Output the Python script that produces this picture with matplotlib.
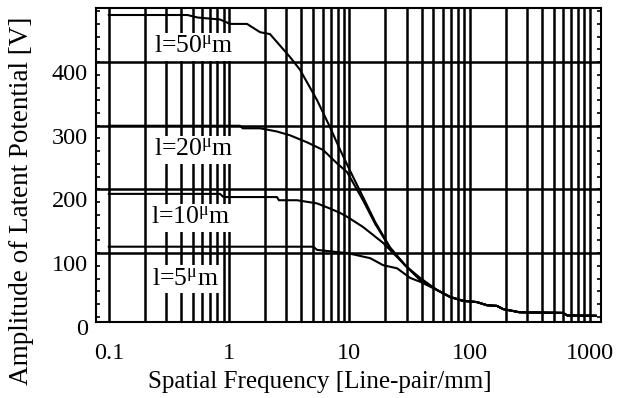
import numpy as np
import matplotlib
matplotlib.use("Agg")
import matplotlib.pyplot as plt
from matplotlib.ticker import FixedLocator, MultipleLocator, NullFormatter
from matplotlib.transforms import ScaledTranslation

plt.rcParams['font.family'] = ['Liberation Serif', 'DejaVu Serif']
plt.rcParams['mathtext.fontset'] = 'custom'
plt.rcParams['mathtext.rm'] = 'Liberation Serif'
plt.rcParams['mathtext.it'] = 'Liberation Serif'

# curves (frequency in line-pair/mm, amplitude in V)
tail_f = [69, 88, 115, 140, 169, 190, 230, 260, 600, 650, 1120]
tail_v = [31, 25, 23, 18, 17, 12, 9, 7, 6, 2, 1.5]

f_50 = [0.1, 0.45, 0.55, 0.84, 1.02, 1.41, 1.81, 2.19, 3.21, 3.89, 5.4, 6.9, 8.4, 10.1, 13, 16.4, 21.8, 29.1, 38.8, 53.6]
v_50 = [474, 474, 470, 467, 460, 460, 447, 444, 408, 388, 340, 298, 262, 230, 188, 149, 109, 81, 58, 42]

f_20 = [0.1, 1.23, 1.3, 1.81, 2.5, 3.21, 4.45, 6.05, 7.9, 9.6, 13, 16.4, 21.8, 29.1, 38.8, 53.6]
v_20 = [300, 300, 296, 296, 291, 285, 274, 262, 241, 227, 183, 146, 108, 81, 58, 42]

f_10 = [0.1, 0.84, 0.9, 2.5, 2.6, 3.67, 5.4, 6.9, 8.4, 9.6, 13, 19.1, 30.2, 38.8, 53.6]
v_10 = [193, 193, 188, 188, 183, 183, 178, 170, 163, 157, 141, 116, 78, 61, 42]

f_5 = [0.1, 5.0, 5.4, 8.4, 9.6, 14.9, 19.1, 25, 32, 38.8, 53.6]
v_5 = [110, 110, 105, 101, 100, 92, 81, 76, 61, 55, 42]

curves = [
    ('50', f_50, v_50, (0.51, 424)),
    ('20', f_20, v_20, (0.51, 262)),
    ('10', f_10, v_10, (0.48, 155)),
    ('5', f_5, v_5, (0.43, 59)),
]

yticks = [0, 100, 200, 300, 400]
xticks = [0.1, 1, 10, 100, 1000]
xticklabels = ['0.1', '1', '10', '100', '1000']

fig = plt.figure(figsize=(6.24, 3.98), dpi=100)
ax = fig.add_axes([96 / 624, 76 / 398, 505 / 624, 314 / 398])

for name, f, v, pos in curves:
    ax.plot(list(f) + tail_f, list(v) + tail_v, color='black', lw=1.5, zorder=3)
    ax.text(pos[0], pos[1], 'l=' + name + r'$^{\mathregular{\mu}}$m', fontsize=18.5,
            ha='center', va='center', zorder=2.5,
            bbox=dict(facecolor='white', edgecolor='none', pad=2))

ax.set_xscale('log')
ax.set_xlim(0.0782, 1240)
ax.set_ylim(-8.3, 485)

ax.set_xticks(xticks)
ax.set_xticklabels(xticklabels)
minor_x = [m * 10.0 ** e for e in range(-1, 3) for m in range(2, 10)]
ax.xaxis.set_minor_locator(FixedLocator(minor_x))
ax.xaxis.set_minor_formatter(NullFormatter())
ax.grid(True, which='both', axis='x', color='black', lw=1.8)
ax.set_axisbelow(True)
for v in yticks[1:]:
    ax.axhline(v, color='black', lw=1.8, zorder=1)

ax.set_yticks(yticks)
ax.yaxis.set_minor_locator(MultipleLocator(20))
ax.tick_params(axis='x', which='both', length=0, pad=15, labelsize=17.5)
ax.tick_params(axis='y', which='both', direction='in', left=True, right=True,
               length=3, width=1.2, pad=6, labelsize=17.5)

shift = ScaledTranslation(0, -0.10, fig.dpi_scale_trans)
for lab in ax.get_yticklabels():
    lab.set_transform(lab.get_transform() + shift)

for s in ax.spines.values():
    s.set_linewidth(1.5)

ax.set_xlabel('Spatial Frequency [Line-pair/mm]', fontsize=18, va='center')
ax.set_ylabel('Amplitude of Latent Potential [V]', fontsize=19.5, va='center')
ax.xaxis.set_label_coords(0.4436, -0.19)
ax.yaxis.set_label_coords(-0.147, 0.385)

fig.savefig('out.png', dpi=100)
